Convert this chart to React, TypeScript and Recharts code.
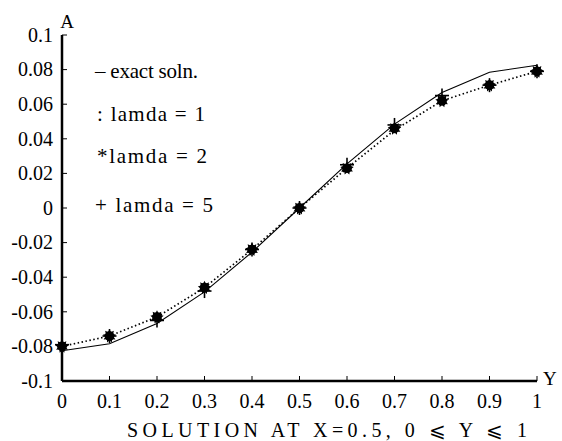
import React from 'react';
import { ComposedChart, Line, XAxis, YAxis, Customized } from 'recharts';

// Y positions along the line X = 0.5
const yPositions = [0, 0.1, 0.2, 0.3, 0.4, 0.5, 0.6, 0.7, 0.8, 0.9, 1];
// exact solution (solid line)
const exactSoln = [-0.0825, -0.0785, -0.0667, -0.0485, -0.0255, 0, 0.0255, 0.0485, 0.0667, 0.0785, 0.0825];
// lamda = 1 (dotted line)
const lamda1 = [-0.08, -0.074, -0.063, -0.046, -0.024, 0, 0.023, 0.045, 0.062, 0.071, 0.079];
// lamda = 2 (star markers)
const lamda2 = [-0.08, -0.074, -0.063, -0.046, -0.024, 0, 0.023, 0.046, 0.062, 0.071, 0.079];
// lamda = 5 (plus markers)
const lamda5 = [-0.079, -0.074, -0.065, -0.048, -0.024, 0, 0.025, 0.048, 0.065, 0.071, 0.079];

const xTicks = [0, 0.1, 0.2, 0.3, 0.4, 0.5, 0.6, 0.7, 0.8, 0.9, 1];
const xTickLabels = ['0', '0.1', '0.2', '0.3', '0.4', '0.5', '0.6', '0.7', '0.8', '0.9', '1'];
const yTicks = [-0.1, -0.08, -0.06, -0.04, -0.02, 0, 0.02, 0.04, 0.06, 0.08, 0.1];
const yTickLabels = ['-0.1', '-0.08', '-0.06', '-0.04', '-0.02', '0', '0.02', '0.04', '0.06', '0.08', '0.1'];

const legendItems = ['– exact soln.', ': lamda = 1', '*lamda = 2', '+ lamda = 5'];
const titleText = 'SOLUTION AT X=0.5, 0 ⩽ Y ⩽ 1';

const data = yPositions.map((y, i) => ({
  y,
  exact: exactSoln[i],
  l1: lamda1[i],
  l2: lamda2[i],
  l5: lamda5[i],
}));

const FAM = 'Liberation Serif';
const txt = { fontFamily: '"Liberation Serif"' } as React.CSSProperties;

const lookup = (ticks: number[], labels: string[], v: number) => {
  const i = ticks.findIndex((t) => Math.abs(t - v) < 1e-9);
  return i >= 0 ? labels[i] : String(v);
};

const XTick = (props: any) => {
  const { x, y, payload } = props;
  return (
    <text x={x} y={y} dy="0.71em" textAnchor="middle" fontSize={20} fontFamily={FAM} fill="#000" style={txt}>
      {lookup(xTicks, xTickLabels, payload.value)}
    </text>
  );
};

const YTick = (props: any) => {
  const { x, y, payload } = props;
  return (
    <text x={x} y={y} dy="0.34em" textAnchor="end" fontSize={20} fontFamily={FAM} fill="#000" style={txt}>
      {lookup(yTicks, yTickLabels, payload.value)}
    </text>
  );
};

const StarDot = (props: any) => {
  const { cx, cy, index } = props;
  if (cx == null || cy == null) return null;
  const pts: string[] = [];
  const n = 9;
  for (let k = 0; k < n * 2; k++) {
    const r = k % 2 === 0 ? 6.8 : 4.2;
    const a = (Math.PI * k) / n - Math.PI / 2;
    pts.push(`${cx + r * Math.cos(a)},${cy + r * Math.sin(a)}`);
  }
  return (
    <g key={`star-${index}`}>
      <circle cx={cx} cy={cy} r={4.8} fill="#000" />
      <polygon points={pts.join(' ')} fill="#000" />
    </g>
  );
};

const PlusDot = (props: any) => {
  const { cx, cy, index } = props;
  if (cx == null || cy == null) return null;
  const s = 7;
  return (
    <g key={`plus-${index}`}>
      <line x1={cx - s} y1={cy} x2={cx + s} y2={cy} stroke="#000" strokeWidth={1.6} />
      <line x1={cx} y1={cy - s} x2={cx} y2={cy + s} stroke="#000" strokeWidth={1.6} />
    </g>
  );
};

const LegendText = () => (
  <g>
    <text x={95} y={78} fontSize={21} fontFamily={FAM} textLength={103} lengthAdjust="spacing" style={txt}>{legendItems[0]}</text>
    <text x={97} y={121} fontSize={21} fontFamily={FAM} textLength={108} lengthAdjust="spacing" style={txt}>{legendItems[1]}</text>
    <text x={97} y={163} fontSize={21} fontFamily={FAM} textLength={110} lengthAdjust="spacing" style={txt}>{legendItems[2]}</text>
    <text x={95} y={212} fontSize={21} fontFamily={FAM} textLength={118} lengthAdjust="spacing" style={txt}>{legendItems[3]}</text>
  </g>
);

export default function App() {
  return (
    <div style={{ position: 'absolute', left: 0, top: 0, width: 562, height: 441, background: '#fff', fontFamily: '"Liberation Serif"' }}>
      <ComposedChart
        width={562}
        height={441}
        data={data}
        margin={{ top: 35, right: 25, bottom: 30, left: 0 }}
        style={{ fontFamily: '"Liberation Serif"' }}
      >
        <XAxis
          xAxisId="b"
          dataKey="y"
          type="number"
          domain={[0, 1]}
          ticks={xTicks}
          interval={0}
          orientation="bottom"
          height={30}
          tickSize={-5}
          tickMargin={18}
          axisLine={{ stroke: '#000', strokeWidth: 2.5 }}
          tickLine={{ stroke: '#000', strokeWidth: 1 }}
          tick={<XTick />}
        />
        <XAxis
          xAxisId="t"
          dataKey="y"
          type="number"
          domain={[0, 1]}
          ticks={xTicks}
          interval={0}
          orientation="top"
          height={0}
          tickSize={-5}
          tick={false}
          axisLine={{ stroke: '#000', strokeWidth: 1.5 }}
          tickLine={{ stroke: '#000', strokeWidth: 1 }}
        />
        <YAxis
          yAxisId="l"
          type="number"
          domain={[-0.1, 0.1]}
          ticks={yTicks}
          interval={0}
          width={62}
          tickSize={-5}
          tickMargin={14}
          axisLine={{ stroke: '#000', strokeWidth: 2.5 }}
          tickLine={{ stroke: '#000', strokeWidth: 1 }}
          tick={<YTick />}
        />
        <YAxis
          yAxisId="r"
          orientation="right"
          type="number"
          domain={[-0.1, 0.1]}
          ticks={yTicks}
          interval={0}
          width={0}
          tickSize={-5}
          tick={false}
          axisLine={{ stroke: '#000', strokeWidth: 2 }}
          tickLine={{ stroke: '#000', strokeWidth: 1 }}
        />
        <Line xAxisId="t" yAxisId="r" dataKey="exact" stroke="none" dot={false} activeDot={false} isAnimationActive={false} />
        <Line
          xAxisId="b"
          yAxisId="l"
          type="linear"
          dataKey="exact"
          stroke="#000"
          strokeWidth={1.1}
          dot={false}
          activeDot={false}
          isAnimationActive={false}
        />
        <Line
          xAxisId="b"
          yAxisId="l"
          type="linear"
          dataKey="l1"
          stroke="#000"
          strokeWidth={1.7}
          strokeDasharray="1.5 2.5"
          dot={false}
          activeDot={false}
          isAnimationActive={false}
        />
        <Line
          xAxisId="b"
          yAxisId="l"
          type="linear"
          dataKey="l2"
          stroke="none"
          dot={StarDot}
          activeDot={false}
          isAnimationActive={false}
        />
        <Line
          xAxisId="b"
          yAxisId="l"
          type="linear"
          dataKey="l5"
          stroke="none"
          dot={PlusDot}
          activeDot={false}
          isAnimationActive={false}
        />
        <Customized component={LegendText} />
      </ComposedChart>
      <svg
        width={562}
        height={441}
        style={{ position: 'absolute', left: 0, top: 0, pointerEvents: 'none' }}
      >
        <text x={67} y={28} fontSize={19} textAnchor="middle" fontFamily={FAM} style={txt}>A</text>
        <text x={543} y={385} fontSize={19} fontFamily={FAM} style={txt}>Y</text>
        <text x={127} y={437} fontSize={20} fontFamily={FAM} textLength={400} lengthAdjust="spacing" style={txt}>
          {titleText}
        </text>
      </svg>
    </div>
  );
}
